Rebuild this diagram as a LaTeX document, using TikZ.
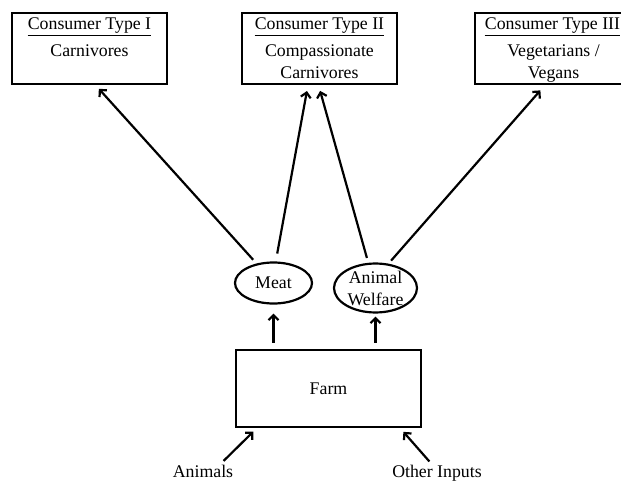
\documentclass[tikz,border=0pt]{standalone}
\usepackage{fontspec}
\setmainfont{Liberation Serif}
\usetikzlibrary{arrows.meta,shapes.geometric}

\begin{document}
\begin{tikzpicture}[
      x=1pt, y=-1pt,
      >={Straight Barb[length=5pt,width=10pt]},
      every node/.style={font=\fontsize{17.8}{22}\selectfont},
      consumer/.style={draw, rectangle, line width=2.2pt, minimum width=155pt, minimum height=71pt},
      heading/.style={anchor=base, inner sep=0pt},
      group/.style={anchor=north, align=center, inner sep=0pt},
      good/.style={draw, ellipse, line width=2.2pt, inner sep=0pt, align=center},
      flow/.style={->, line width=2.2pt},
      source/.style={anchor=base, inner sep=0pt}
    ]
    \useasboundingbox (0,0) rectangle (621,481);
    \clip (0,0) rectangle (621,481);

    % Consumidores
    \node[consumer] (cons1) at (89.5,48.5) {};
    \node[heading] (head1) at (89.5,30) {Consumer Type I};
    \node[group] (group1) at (89.5,44.5) {Carnivores};
    \draw[line width=0.9pt] ([yshift=-5.5pt]head1.base west) -- ([yshift=-5.5pt]head1.base east);

    \node[consumer] (cons2) at (319.5,48.5) {};
    \node[heading] (head2) at (319.5,30) {Consumer Type II};
    \node[group] (group2) at (319.5,44.5) {Compassionate\\Carnivores};
    \draw[line width=0.9pt] ([yshift=-5.5pt]head2.base west) -- ([yshift=-5.5pt]head2.base east);

    \node[consumer] (cons3) at (552.5,48.5) {};
    \node[heading] (head3) at (552.5,30) {Consumer Type III};
    \node[group] (group3) at (553.5,44.5) {Vegetarians /\\Vegans};
    \draw[line width=0.9pt] ([yshift=-5.5pt]head3.base west) -- ([yshift=-5.5pt]head3.base east);

    % Productos
    \node[good, minimum width=77pt, minimum height=41pt] (meat) at (273.5,283) {Meat};
    \node[good, minimum width=83pt] (welfare) at (375.5,288) {Animal\\Welfare};

    % Granja
    \node[draw, rectangle, line width=2.2pt, minimum width=185pt, minimum height=77pt] (farm) at (328.5,388.5) {Farm};

    % Entradas
    \node[source] (animals) at (203,477) {Animals};
    \node[source] (inputs) at (437,477) {Other Inputs};

    % Flechas
    \draw[flow, shorten <=5pt, shorten >=5pt] ([xshift=17pt]animals.north) -- ([xshift=22pt]farm.south west);
    \draw[flow, shorten <=4pt, shorten >=5pt] ([xshift=-5pt]inputs.north) -- ([xshift=-22pt]farm.south east);
    \draw[flow, shorten <=6pt, shorten >=9pt] (meat.south |- farm.north) -- (meat.south);
    \draw[flow, shorten <=6pt, shorten >=3pt] (welfare.south |- farm.north) -- (welfare.south);
    \draw[flow, shorten <=5pt, shorten >=5pt] (meat.131) -- ([xshift=6pt]cons1.south);
    \draw[flow, shorten <=8pt, shorten >=6pt] (meat.84) -- ([xshift=-11.5pt]cons2.south);
    \draw[flow, shorten <=5pt, shorten >=6pt] (welfare.106) -- ([xshift=-1pt]cons2.south);
    \draw[flow, shorten <=4pt, shorten >=7pt] (welfare.62) -- ([xshift=-7.5pt]cons3.south);

  \end{tikzpicture}
\end{document}
